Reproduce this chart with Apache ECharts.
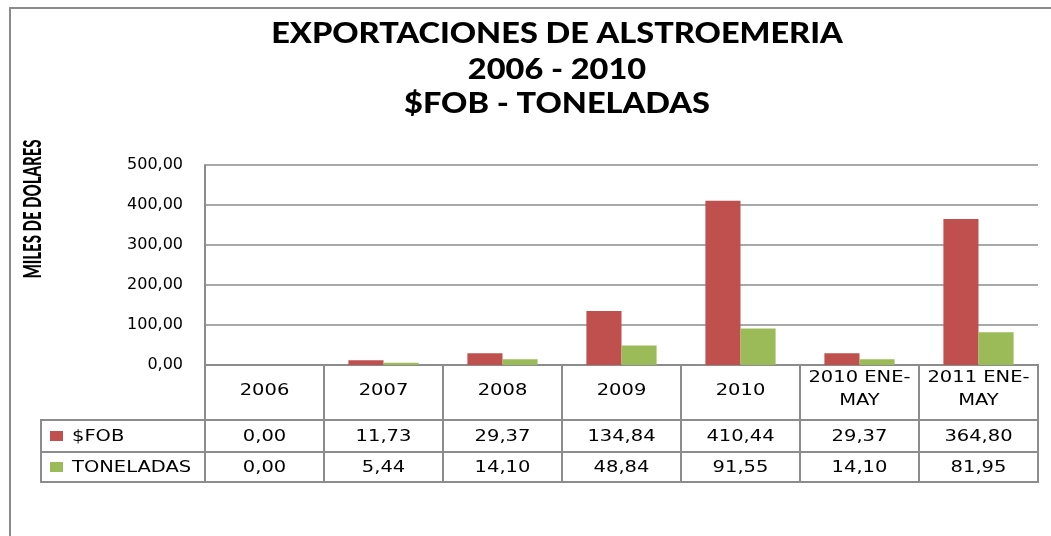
<!DOCTYPE html>
<html>
<head>
<meta charset="utf-8">
<script src="https://cdn.jsdelivr.net/npm/echarts@6/dist/echarts.min.js"></script>
<style>
  html, body { margin: 0; padding: 0; background: #fff; }
  #chart { width: 1051px; height: 536px; }
</style>
</head>
<body>
<div id="chart"></div>
<script>
// datos
const categories = ['2006', '2007', '2008', '2009', '2010', '2010 ENE-\nMAY', '2011 ENE-\nMAY']
const fobValues = [0, 11.73, 29.37, 134.84, 410.44, 29.37, 364.80]
const tonValues = [0, 5.44, 14.10, 48.84, 91.55, 14.10, 81.95]
const seriesNames = ['$FOB', 'TONELADAS']
const titleLines = ['EXPORTACIONES DE ALSTROEMERIA', '2006 - 2010', '$FOB - TONELADAS']
const yAxisTitle = 'MILES DE DOLARES'

const colors = ['#C0504D', '#9BBB59']
const lineGray = '#8c8c8c'
const fmt = v => v.toFixed(2).replace('.', ',')

const chart = echarts.init(document.getElementById('chart'))

// filas de la tabla: encabezado, $FOB, TONELADAS
const rows = [[0, 55], [55, 87], [87, 117]]
const tableFont = { fontFamily: 'DejaVu Sans', fontSize: 15, fill: '#000' }

function renderTable(params, api) {
  const i = api.value(0)
  const w = api.size([1, 0])[0]
  const cx = api.coord([i, 0])[0]
  const x0 = cx - w / 2
  const top = params.coordSys.y
  const children = []
  const cell = (x, y, width, height) => ({
    type: 'rect',
    shape: { x: x, y: y, width: width, height: height },
    style: { fill: null, stroke: lineGray, lineWidth: 2 }
  })
  const label = (text, x, y, align) => ({
    type: 'text',
    x: x, y: y, scaleX: 1.3,
    style: Object.assign({ text: text, textAlign: align || 'center', textVerticalAlign: 'middle', lineHeight: 23 }, tableFont)
  })
  rows.forEach(r => children.push(cell(x0, top + r[0], w, r[1] - r[0])))
  const cat = categories[i]
  children.push(label(cat, cx, top + (cat.indexOf('\n') > -1 ? 25 : 26)))
  children.push(label(fmt(fobValues[i]), cx, top + 72))
  children.push(label(fmt(tonValues[i]), cx, top + 103))
  if (i === 0) {
    const lx = params.coordSys.x - 164
    seriesNames.forEach((name, k) => {
      const r = rows[k + 1]
      children.push(cell(lx, top + r[0], 164, r[1] - r[0]))
      const my = top + (r[0] + r[1]) / 2
      children.push({
        type: 'rect',
        shape: { x: lx + 9, y: my - 5, width: 13, height: 10 },
        style: { fill: colors[k] }
      })
      children.push(label(name, lx + 31, my + 1, 'left'))
    })
  }
  return { type: 'group', children: children }
}

const titleGraphics = titleLines.map((t, k) => ({
  type: 'text',
  x: 557, y: [34, 70, 104][k], scaleX: 1.16,
  style: {
    text: t, textAlign: 'center', textVerticalAlign: 'middle',
    fontFamily: 'Lato', fontWeight: 900, fontSize: 28, fill: '#000'
  }
}))

chart.setOption({
  animation: false,
  backgroundColor: '#fff',
  grid: [
    { left: 205, right: 13, top: 165, bottom: 171 },
    { left: 205, right: 13, top: 365, bottom: 54 }
  ],
  xAxis: [
    {
      type: 'category', data: categories, gridIndex: 0,
      axisLine: { lineStyle: { color: lineGray, width: 2 } },
      axisTick: { show: false }, axisLabel: { show: false }
    },
    {
      type: 'category', data: categories, gridIndex: 1, show: false
    }
  ],
  yAxis: [
    {
      type: 'value', gridIndex: 0, min: 0, max: 500, interval: 100,
      axisLine: { show: true, lineStyle: { color: lineGray, width: 2 } },
      axisTick: { show: false },
      axisLabel: {
        formatter: v => fmt(v), margin: 22,
        fontFamily: 'DejaVu Sans', fontSize: 16, color: '#000'
      },
      splitLine: { lineStyle: { color: lineGray, width: 1.5 } }
    },
    { type: 'value', gridIndex: 1, min: 0, max: 1, show: false }
  ],
  series: [
    {
      name: seriesNames[0], type: 'bar', data: fobValues,
      xAxisIndex: 0, yAxisIndex: 0,
      barGap: '0%', barCategoryGap: '41%',
      itemStyle: { color: colors[0] }
    },
    {
      name: seriesNames[1], type: 'bar', data: tonValues,
      xAxisIndex: 0, yAxisIndex: 0,
      itemStyle: { color: colors[1] }
    },
    {
      type: 'custom', xAxisIndex: 1, yAxisIndex: 1,
      data: categories.map((c, i) => [i]),
      renderItem: renderTable, silent: true
    }
  ],
  graphic: titleGraphics.concat([
    {
      type: 'rect',
      shape: { x: 10, y: 8, width: 1200, height: 700 },
      style: { fill: null, stroke: '#8a8a8a', lineWidth: 2 },
      z: -1
    },
    {
      type: 'text',
      x: 33, y: 209, rotation: Math.PI / 2, scaleY: 1.6,
      style: {
        text: yAxisTitle, textAlign: 'center', textVerticalAlign: 'middle',
        fontFamily: 'Lato', fontWeight: 900, fontSize: 15, fill: '#000'
      }
    }
  ])
})
</script>
</body>
</html>
